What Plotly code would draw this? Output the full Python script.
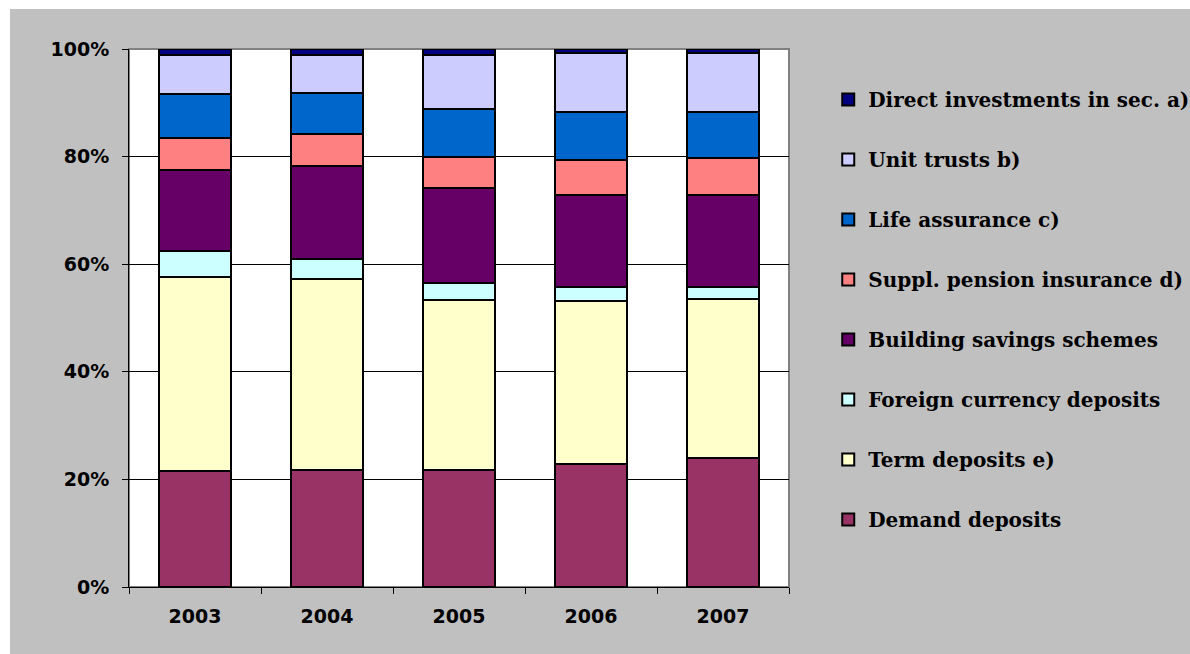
import plotly.graph_objects as go

anos = ["2003", "2004", "2005", "2006", "2007"]

# participação (%) de cada componente, de baixo para cima
demand = [21.5, 21.7, 21.7, 22.9, 24.0]
term = [36.1, 35.5, 31.6, 30.2, 29.5]
foreign = [4.8, 3.7, 3.2, 2.6, 2.2]
building = [15.1, 17.3, 17.7, 17.1, 17.1]
pension = [5.9, 6.0, 5.7, 6.6, 6.9]
life = [8.2, 7.7, 8.9, 8.9, 8.6]
unit = [7.3, 7.0, 10.1, 11.0, 11.0]
direct = [1.1, 1.1, 1.1, 0.7, 0.7]

y_ticks = [0, 20, 40, 60, 80, 100]
y_labels = ["0%", "20%", "40%", "60%", "80%", "100%"]

series = [
    ("Demand deposits", demand, "#993366"),
    ("Term deposits e)", term, "#FFFFCC"),
    ("Foreign currency deposits", foreign, "#CCFFFF"),
    ("Building savings schemes", building, "#660066"),
    ("Suppl. pension insurance d)", pension, "#FF8080"),
    ("Life assurance c)", life, "#0066CC"),
    ("Unit trusts b)", unit, "#CCCCFF"),
    ("Direct investments in sec. a)", direct, "#000080"),
]

fig = go.Figure()
for i, (nome, valores, cor) in enumerate(series):
    fig.add_trace(go.Bar(
        x=anos, y=valores, name=nome, legendgroup=nome,
        legendrank=len(series) - i,
        marker=dict(color=cor, line=dict(color="black", width=2)),
    ))

eixo_font = dict(family="DejaVu Sans", size=19, color="black", weight="bold")

fig.update_layout(
    width=1190, height=654,
    barmode="stack", bargap=0.46,
    paper_bgcolor="white", plot_bgcolor="white",
    margin=dict(l=129, r=401, t=49, b=67, autoexpand=False),
    showlegend=True,
    legend=dict(
        traceorder="grouped", tracegroupgap=31,
        xref="container", x=0.696, xanchor="left", y=0.516, yanchor="middle",
        bgcolor="rgba(0,0,0,0)",
        font=dict(family="DejaVu Serif", size=20, color="black", weight="bold"),
        itemwidth=30,
    ),
    xaxis=dict(
        showline=True, linecolor="black", linewidth=1,
        ticks="outside", tickson="boundaries", ticklen=6, tickcolor="black",
        tickfont=eixo_font, showgrid=False, ticklabelstandoff=12,
    ),
    yaxis=dict(
        range=[0, 100], tickvals=y_ticks, ticktext=y_labels,
        showline=True, linecolor="black", linewidth=1,
        ticks="outside", ticklen=6, tickcolor="black",
        showgrid=True, gridcolor="black", gridwidth=1,
        tickfont=eixo_font, zeroline=False, ticklabelstandoff=9,
    ),
    shapes=[
        # fundo cinza
        dict(type="rect", xref="paper", yref="paper", x0=-0.1803, x1=1.7,
             y0=-0.3, y1=1.0744, fillcolor="#C0C0C0", line_width=0, layer="below"),
        # área do gráfico
        dict(type="rect", xref="paper", yref="paper", x0=0, x1=1, y0=0, y1=1,
             fillcolor="white", line=dict(color="#808080", width=2), layer="below"),
    ],
)

fig.write_html("out.html", config={"displayModeBar": False},
               post_script="document.body.style.margin='0';")
